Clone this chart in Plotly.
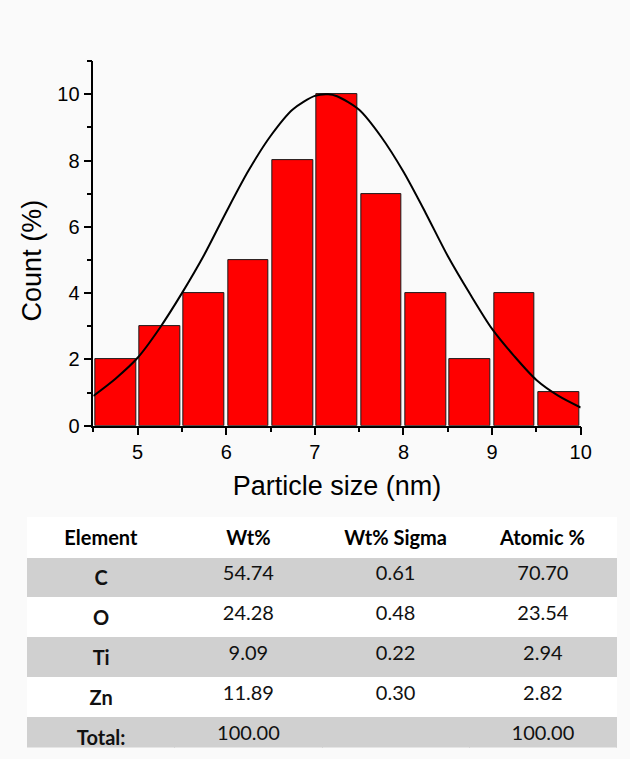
import plotly.graph_objects as go

# ---- histogram data ----
bin_centers = [4.75, 5.25, 5.75, 6.25, 6.75, 7.25, 7.75, 8.25, 8.75, 9.25, 9.75]
counts = [2, 3, 4, 5, 8, 10, 7, 4, 2, 4, 1]

# ---- fitted curve ----
fit_x = [4.5, 4.75, 5.0, 5.25, 5.5, 5.75, 6.0, 6.25, 6.5, 6.75, 7.0, 7.15,
         7.25, 7.5, 7.75, 8.0, 8.25, 8.5, 8.75, 9.0, 9.25, 9.5, 9.75, 10.0]
fit_y = [0.9, 1.42, 2.05, 2.95, 4.0, 5.15, 6.45, 7.69, 8.74, 9.54, 9.95, 10.0,
         9.94, 9.53, 8.71, 7.66, 6.42, 5.12, 3.98, 2.92, 2.1, 1.38, 0.9, 0.55]

# ---- table data ----
tbl_header = ["Element", "Wt%", "Wt% Sigma", "Atomic %"]
elements = ["C", "O", "Ti", "Zn", "Total:"]
wt_pct = ["54.74", "24.28", "9.09", "11.89", "100.00"]
wt_sigma = ["0.61", "0.48", "0.22", "0.30", ""]
atomic_pct = ["70.70", "23.54", "2.94", "2.82", "100.00"]

W, H = 630, 759
GRAY = "#d0d0d0"
WHITE = "#ffffff"
row_fill = [GRAY if i % 2 == 0 else WHITE for i in range(len(elements))]

fig = go.Figure()

fig.add_trace(go.Bar(
    x=bin_centers, y=counts, width=0.46,
    marker=dict(color="#ff0000", line=dict(color="#1a1a1a", width=1)),
    showlegend=False, xaxis="x", yaxis="y",
))

fig.add_trace(go.Scatter(
    x=fit_x, y=fit_y, mode="lines",
    line=dict(color="black", width=2, shape="spline", smoothing=0.8),
    showlegend=False, xaxis="x", yaxis="y",
))

fig.add_trace(go.Table(
    domain=dict(x=[28 / W, 628 / W], y=[0, 1 - 525 / H]),
    columnwidth=[150, 150, 150, 150],
    header=dict(
        values=["<b>%s</b>" % h for h in tbl_header],
        fill_color=WHITE,
        line=dict(color=WHITE, width=1),
        align="center",
        height=40,
        font=dict(family="Lato", size=20, color="black"),
    ),
    cells=dict(
        values=[["<b>%s</b>" % e for e in elements], wt_pct, wt_sigma, atomic_pct],
        fill_color=[row_fill] * 4,
        line=dict(color=[row_fill] * 4, width=1),
        align="center",
        height=40,
        font=dict(family="Lato", size=20, color="#111111"),
    ),
))

title_font = dict(family="Liberation Sans, Arial, sans-serif", size=27, color="black")
axis_font = dict(family="Liberation Sans, Arial, sans-serif", size=20, color="black")

fig.update_layout(
    width=W, height=H, autosize=False,
    margin=dict(l=0, r=0, t=0, b=0),
    paper_bgcolor="#fafafa",
    plot_bgcolor="#fafafa",
    bargap=0,
    xaxis=dict(
        domain=[95 / W, 591 / W],
        range=[4.5, 10],
        tick0=5, dtick=1,
        ticks="outside", ticklen=8, tickwidth=1.5, tickcolor="black",
        minor=dict(tick0=4.5, dtick=0.5, ticks="outside", ticklen=5,
                   tickwidth=1.5, tickcolor="black", showgrid=False),
        showline=True, linecolor="black", linewidth=1.5,
        showgrid=False, zeroline=False,
        tickfont=axis_font,
        title=dict(text="Particle size (nm)", standoff=14, font=title_font),
    ),
    yaxis=dict(
        domain=[1 - 432 / H, 1 - 62 / H],
        range=[0, 11],
        tick0=0, dtick=2,
        ticks="outside", ticklen=8, tickwidth=1.5, tickcolor="black",
        minor=dict(tick0=0, dtick=1, ticks="outside", ticklen=5,
                   tickwidth=1.5, tickcolor="black", showgrid=False),
        showline=True, linecolor="black", linewidth=1.5,
        showgrid=False, zeroline=False,
        tickfont=axis_font,
    ),
    annotations=[dict(
        text="Count (%)", textangle=-90,
        xref="paper", yref="y", x=33 / W, y=5,
        xanchor="center", yanchor="middle", showarrow=False,
        font=title_font,
    )],
)

fig.write_html(
    "out.html",
    config={"displayModeBar": False},
    post_script="document.body.style.margin='0px';document.body.style.padding='0px';"
                "document.body.style.overflow='hidden';document.body.style.background='#fafafa';",
)
